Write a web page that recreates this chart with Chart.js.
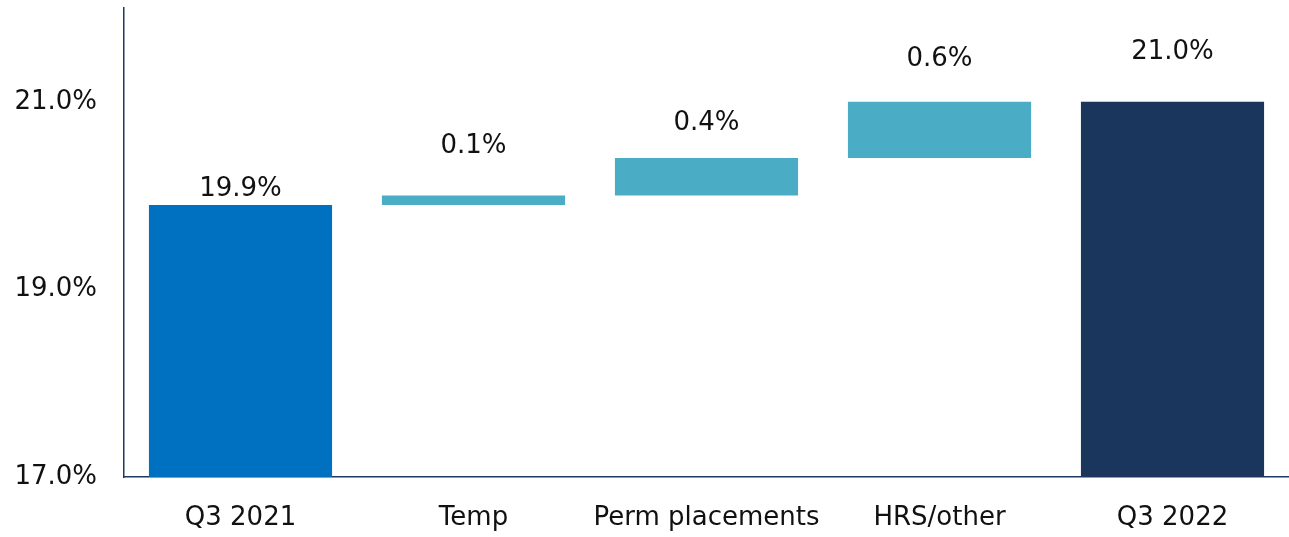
<!DOCTYPE html>
<html>
<head>
<meta charset="utf-8">
<script src="https://cdn.jsdelivr.net/npm/chart.js@4"></script>
<style>
    html, body { margin: 0; padding: 0; background: #fff; }
    #wrap { width: 1289px; height: 537px; position: relative; }
</style>
</head>
<body>
<div id="wrap"><canvas id="graficoPuente"></canvas></div>
<script>
// datos
const categorias = ["Q3 2021", "Temp", "Perm placements", "HRS/other", "Q3 2022"];
const inicio = [17.0, 19.9, 20.0, 20.4, 17.0];
const fin = [19.9, 20.0, 20.4, 21.0, 21.0];
const etiquetas = ["19.9%", "0.1%", "0.4%", "0.6%", "21.0%"];
const ticksEje = [17, 19, 21];

// estilos
const colores = ["#0070C0", "#4BACC6", "#4BACC6", "#4BACC6", "#1B365D"];
const separacion = [16, 49, 35, 43, 50];
const fuente = "'DejaVu Sans', Verdana, sans-serif";

const datos = categorias.map(function (c, i) {
    return [inicio[i], fin[i]];
});

const pluginEtiquetas = {
    id: "etiquetas",
    afterDatasetsDraw: function (chart) {
        const ctx = chart.ctx;
        const meta = chart.getDatasetMeta(0);
        ctx.save();
        ctx.font = "26px " + fuente;
        ctx.fillStyle = "#111111";
        ctx.textAlign = "center";
        ctx.textBaseline = "middle";
        meta.data.forEach(function (bar, i) {
            const top = Math.min(bar.y, bar.base);
            ctx.fillText(etiquetas[i], bar.x, top - separacion[i]);
        });
        ctx.restore();
    }
};

new Chart(document.getElementById("graficoPuente"), {
    type: "bar",
    plugins: [pluginEtiquetas],
    data: {
        labels: categorias,
        datasets: [{
            data: datos,
            backgroundColor: colores,
            borderWidth: 0,
            categoryPercentage: 1,
            barPercentage: 0.786
        }]
    },
    options: {
        responsive: true,
        maintainAspectRatio: false,
        animation: false,
        layout: { padding: { top: 8, right: 0, left: 0, bottom: 0 } },
        plugins: {
            legend: { display: false },
            tooltip: { enabled: false }
        },
        scales: {
            x: {
                grid: { display: false, drawTicks: false },
                border: { display: true, color: "#1F3864", width: 1.5 },
                ticks: {
                    color: "#111111",
                    padding: 26,
                    font: { family: fuente, size: 26 }
                },
                afterFit: function (scale) {
                    scale.height = 60;
                    scale.paddingLeft = 0;
                    scale.paddingRight = 0;
                }
            },
            y: {
                min: 17,
                max: 22,
                grid: { display: false, drawTicks: false },
                border: { display: true, color: "#1F3864", width: 1.5 },
                afterBuildTicks: function (scale) {
                    scale.ticks = ticksEje.map(function (v) { return { value: v }; });
                },
                ticks: {
                    color: "#111111",
                    padding: 27,
                    font: { family: fuente, size: 26 },
                    callback: function (v) { return Number(v).toFixed(1) + "%"; }
                },
                afterFit: function (scale) {
                    scale.width = 124;
                    scale.paddingTop = 0;
                    scale.paddingBottom = 0;
                }
            }
        }
    }
});
</script>
</body>
</html>
